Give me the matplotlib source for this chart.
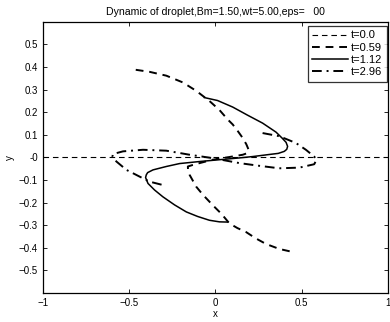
import matplotlib.pyplot as plt
import numpy as np

plt.rcParams['font.family'] = ['Liberation Sans', 'DejaVu Sans']

# droplet interface profiles
x0 = [-1.0, 1.0]
y0 = [0.0, 0.0]

x059 = [-0.462, -0.382, -0.285, -0.189, -0.112, -0.035, 0.023, 0.071, 0.100, 0.130,
        0.158, 0.179, 0.191, 0.188, 0.158, 0.081, -0.016, -0.092, -0.131, -0.160,
        -0.159, -0.150, -0.112, -0.073, -0.016, 0.035, 0.081, 0.127, 0.177, 0.231,
        0.293, 0.370, 0.457]
y059 = [0.388, 0.379, 0.362, 0.332, 0.295, 0.250, 0.210, 0.168, 0.146, 0.116,
        0.086, 0.058, 0.036, 0.020, 0.012, 0.002, -0.010, -0.025, -0.033, -0.040,
        -0.056, -0.077, -0.129, -0.165, -0.211, -0.250, -0.292, -0.3125, -0.330, -0.357,
        -0.383, -0.405, -0.420]

x112 = [-0.064, 0.012, 0.100, 0.185, 0.273, 0.351, 0.387, 0.409, 0.418, 0.413,
        0.399, 0.364, 0.331, 0.216, 0.139, 0.023, -0.092, -0.208, -0.285, -0.362,
        -0.393, -0.401, -0.405, -0.391, -0.353, -0.305, -0.237, -0.169, -0.104, -0.035,
        0.023, 0.071]
y112 = [0.265, 0.252, 0.223, 0.1875, 0.152, 0.112, 0.085, 0.067, 0.049, 0.036,
        0.027, 0.018, 0.015, 0.004, -0.002, -0.010, -0.018, -0.027, -0.040, -0.055,
        -0.067, -0.077, -0.089, -0.115, -0.144, -0.174, -0.210, -0.241, -0.261, -0.278,
        -0.285, -0.286]

x296 = [0.273, 0.370, 0.466, 0.524, 0.572, 0.586, 0.572, 0.486, 0.370, 0.254,
        0.139, -0.016, -0.150, -0.285, -0.420, -0.536, -0.594, -0.597, -0.574, -0.516,
        -0.439, -0.382, -0.305]
y296 = [0.108, 0.094, 0.064, 0.034, 0.004, -0.010, -0.030, -0.045, -0.048, -0.037,
        -0.025, -0.003, 0.012, 0.030, 0.034, 0.027, 0.015, 0.004, -0.018, -0.055,
        -0.085, -0.107, -0.122]

labels = ['t=0.0', 't=0.59', 't=1.12', 't=2.96']

fig = plt.figure(figsize=(3.9, 3.22), dpi=100)
ax = fig.add_axes([0.110, 0.090, 0.885, 0.842])

ax.plot(x0, y0, color='black', lw=0.8, dashes=(5, 3.5), label=labels[0])
ax.plot(x059, y059, color='black', lw=1.4, dashes=(4, 3), label=labels[1])
ax.plot(x112, y112, color='black', lw=1.1, ls='-', label=labels[2])
ax.plot(x296, y296, color='black', lw=1.4, dashes=(5, 2.5, 1, 2.5), label=labels[3])

ax.set_xlim(-1, 1)
ax.set_ylim(-0.6, 0.6)
ax.set_xticks([-1, -0.5, 0, 0.5, 1])
ax.set_xticklabels(['\u22121', '\u22120.5', '0', '0.5', '1'])
yt = np.round(np.arange(-0.5, 0.51, 0.1), 1)
ax.set_yticks(yt)
ax.set_yticklabels([('\u2212' + f'{abs(v):g}') if v < 0 else f'{v:g}' for v in yt])
ax.tick_params(direction='in', top=True, right=True, labelsize=7, length=3, width=0.6)
for s in ax.spines.values():
    s.set_linewidth(0.9)

ax.set_xlabel('x', fontsize=7, labelpad=1)
ax.set_ylabel('y', fontsize=7, labelpad=3)
ax.set_title('Dynamic of droplet,Bm=1.50,wt=5.00,eps=   00', fontsize=7.6, pad=5)

leg = ax.legend(loc='upper right', bbox_to_anchor=(0.997, 0.985), fontsize=8,
                frameon=True, fancybox=False, edgecolor='black', handlelength=3.2,
                borderaxespad=0, labelspacing=0.2, handletextpad=0.3, borderpad=0.4)
leg.get_frame().set_linewidth(0.9)

plt.savefig('out.png')
